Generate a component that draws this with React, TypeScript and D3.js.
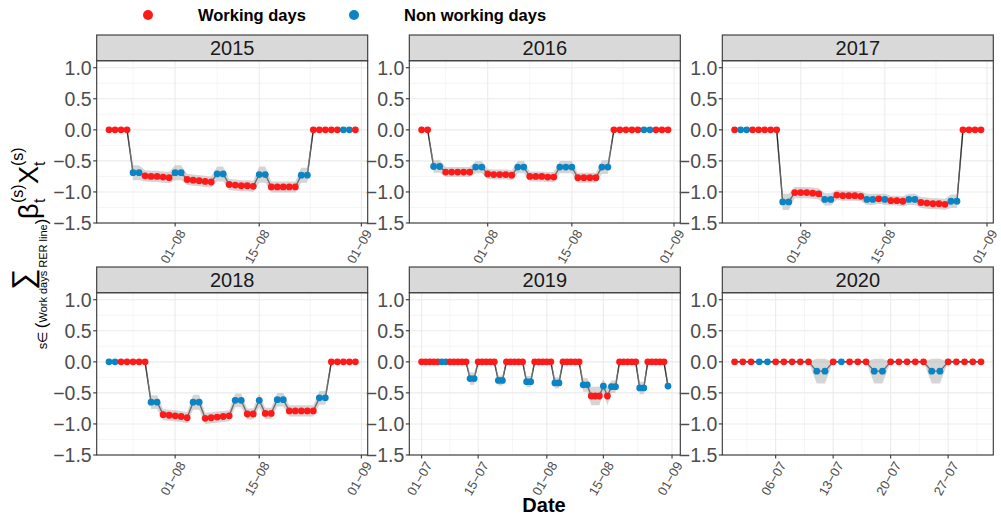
import * as d3 from "d3";

// facet years and the first day of each series
const years = ["2015", "2016", "2017", "2018", "2019", "2020"];
const firstDays = ["2015-07-21", "2016-07-21", "2017-07-21", "2018-07-21", "2019-07-01", "2020-07-01"];

// W = working day, N = non working day
const type2015 = "WWWWNNWWWWWNNWWWWWNNWWWWWNNWWWWWNNWWWWWNNW";
const type2016 = "WWNNWWWWWNNWWWWWNNWWWWWNNNWWWWNNWWWWWNNWWW";
const type2017 = "WNNWWWWWNNWWWWWNNWWWWWNNWNWWWNNWWWWWNNWWWW";
const type2018 = "NNWWWWWNNWWWWWNNWWWWWNNWWNWWNNWWWWWNNWWWWW";
const type2019 = "WWWWWNNWWWWWNNWWWWWNNWWWWWNNWWWWWNNWWWWWNNWWWNWNNWWWWWNNWWWWWN";
const type2020 = "WWWNNWWWWWNNWNWWWNNWWWWWNNWWWWW";

const value2015 = [0, 0, 0, 0, -0.69, -0.69, -0.74, -0.75, -0.75, -0.76, -0.77, -0.69, -0.69,
  -0.8, -0.81, -0.82, -0.83, -0.84, -0.71, -0.71, -0.88, -0.89, -0.9, -0.9, -0.91, -0.72, -0.72,
  -0.92, -0.92, -0.92, -0.92, -0.92, -0.73, -0.73, 0, 0, 0, 0, 0, 0, 0, 0];
const value2016 = [0, 0, -0.59, -0.59, -0.68, -0.68, -0.68, -0.68, -0.68, -0.6, -0.6,
  -0.71, -0.72, -0.72, -0.72, -0.73, -0.6, -0.6, -0.75, -0.75, -0.75, -0.76, -0.76,
  -0.6, -0.6, -0.6, -0.77, -0.77, -0.77, -0.77, -0.6, -0.6, 0, 0, 0, 0, 0, 0, 0, 0, 0, 0];
const value2017 = [0, 0, 0, 0, 0, 0, 0, 0, -1.16, -1.16, -1.01, -1.01, -1.01, -1.02, -1.03,
  -1.12, -1.12, -1.05, -1.06, -1.06, -1.06, -1.07, -1.12, -1.12, -1.11, -1.12,
  -1.14, -1.14, -1.15, -1.12, -1.12, -1.17, -1.18, -1.19, -1.19, -1.2, -1.15, -1.15, 0, 0, 0, 0];
const value2018 = [0, 0, 0, 0, 0, 0, 0, -0.65, -0.65, -0.85, -0.86, -0.87, -0.88, -0.9,
  -0.65, -0.65, -0.91, -0.9, -0.89, -0.88, -0.87, -0.62, -0.62, -0.84, -0.84, -0.62,
  -0.83, -0.83, -0.61, -0.61, -0.79, -0.79, -0.79, -0.79, -0.79, -0.58, -0.58, 0, 0, 0, 0, 0];
const value2019 = [0, 0, 0, 0, 0, 0, 0, 0, 0, 0, 0, 0, -0.27, -0.27, 0, 0, 0, 0, 0, -0.3, -0.3,
  0, 0, 0, 0, 0, -0.32, -0.32, 0, 0, 0, 0, 0, -0.34, -0.34, 0, 0, 0, 0, 0, -0.37, -0.37,
  -0.55, -0.55, -0.55, -0.39, -0.55, -0.4, -0.4, 0, 0, 0, 0, 0, -0.42, -0.42, 0, 0, 0, 0, 0, -0.39];
const value2020 = [0, 0, 0, 0, 0, 0, 0, 0, 0, 0, -0.15, -0.15, 0, 0, 0, 0, 0, -0.15, -0.15,
  0, 0, 0, 0, 0, -0.15, -0.15, 0, 0, 0, 0, 0];

// half width of the grey band
const se2015 = [0, 0, 0, 0, 0.12, 0.12, 0.09, 0.09, 0.09, 0.09, 0.09, 0.12, 0.12, 0.09, 0.09, 0.09, 0.09, 0.09,
  0.12, 0.12, 0.09, 0.09, 0.09, 0.09, 0.09, 0.13, 0.13, 0.09, 0.09, 0.09, 0.09, 0.09, 0.12, 0.12, 0, 0, 0, 0, 0, 0, 0, 0];
const se2016 = [0, 0, 0.1, 0.1, 0.08, 0.08, 0.08, 0.08, 0.08, 0.1, 0.1, 0.08, 0.08, 0.08, 0.08, 0.08,
  0.1, 0.1, 0.08, 0.08, 0.08, 0.08, 0.08, 0.1, 0.1, 0.1, 0.08, 0.08, 0.08, 0.08, 0.11, 0.11, 0, 0, 0, 0, 0, 0, 0, 0, 0, 0];
const se2017 = [0, 0, 0, 0, 0, 0, 0, 0, 0.13, 0.13, 0.09, 0.09, 0.09, 0.09, 0.09, 0.1, 0.1, 0.08, 0.08, 0.08, 0.08, 0.08,
  0.09, 0.09, 0.08, 0.09, 0.08, 0.08, 0.08, 0.09, 0.09, 0.09, 0.09, 0.09, 0.09, 0.09, 0.11, 0.11, 0, 0, 0, 0];
const se2018 = [0, 0, 0, 0, 0, 0, 0, 0.11, 0.11, 0.09, 0.09, 0.09, 0.09, 0.09, 0.12, 0.12, 0.09, 0.09, 0.09, 0.09, 0.09,
  0.11, 0.11, 0.09, 0.09, 0.11, 0.09, 0.09, 0.11, 0.11, 0.09, 0.09, 0.09, 0.09, 0.09, 0.11, 0.11, 0, 0, 0, 0, 0];
const se2019 = [0, 0, 0, 0, 0, 0, 0, 0, 0, 0, 0, 0, 0.1, 0.1, 0, 0, 0, 0, 0, 0.08, 0.08, 0, 0, 0, 0, 0, 0.09, 0.09,
  0, 0, 0, 0, 0, 0.09, 0.09, 0, 0, 0, 0, 0, 0.11, 0.11, 0.15, 0.15, 0.15, 0.11, 0.15, 0.1, 0.1,
  0, 0, 0, 0, 0, 0.1, 0.1, 0, 0, 0, 0, 0, 0.05];
const se2020 = [0, 0, 0, 0, 0, 0, 0, 0, 0, 0, 0.2, 0.2, 0, 0, 0, 0, 0, 0.2, 0.2, 0, 0, 0, 0, 0, 0.2, 0.2, 0, 0, 0, 0, 0];

const types = [type2015, type2016, type2017, type2018, type2019, type2020];
const values = [value2015, value2016, value2017, value2018, value2019, value2020];
const ses = [se2015, se2016, se2017, se2018, se2019, se2020];

const majorTicks = [
  ["2015-08-01", "2015-08-15", "2015-09-01"],
  ["2016-08-01", "2016-08-15", "2016-09-01"],
  ["2017-08-01", "2017-08-15", "2017-09-01"],
  ["2018-08-01", "2018-08-15", "2018-09-01"],
  ["2019-07-01", "2019-07-15", "2019-08-01", "2019-08-15", "2019-09-01"],
  ["2020-07-06", "2020-07-13", "2020-07-20", "2020-07-27"],
];
const yTicks = [-1.5, -1, -0.5, 0, 0.5, 1];
const yMinor = [-1.25, -0.75, -0.25, 0.25, 0.75];

const legendLabels = ["Working days", "Non working days"];
const colors = { W: "#ff1a1a", N: "#0a84c4" };

const PANEL_X = [96.7, 409.3, 722.3];
const PANEL_Y = [60.7, 292.7];
const PANEL_W = 271;
const PANEL_H = 162.3;
const STRIP_H = 25.7;
const FONT = "'Liberation Sans', Arial, Helvetica, sans-serif";
const DAY = 86400000;

const parse = d3.utcParse("%Y-%m-%d");
const fmt = d3.utcFormat("%d\u2212%m");
const yFmt = d3.format(".1f");

function Panel({ i }: { i: number }) {
  const x0 = PANEL_X[i % 3];
  const y0 = PANEL_Y[Math.floor(i / 3)];
  const start = parse(firstDays[i])!;
  const data = values[i].map((v, k) => ({
    date: new Date(start.getTime() + k * DAY),
    v,
    se: ses[i][k],
    t: types[i][k] as "W" | "N",
  }));
  const ext = d3.extent(data, (d) => d.date.getTime()) as [number, number];
  const pad = (ext[1] - ext[0]) * 0.05;
  const x = d3.scaleUtc().domain([new Date(ext[0] - pad), new Date(ext[1] + pad)]).range([x0, x0 + PANEL_W]);
  const y = d3.scaleLinear().domain([-1.5, 1.113]).range([y0 + PANEL_H, y0]);

  const majors = majorTicks[i].map((s) => parse(s)!);
  const m = majors.map((d) => d.getTime());
  const ext2 = [m[0] - (m[1] - m[0]), ...m, m[m.length - 1] + (m[m.length - 1] - m[m.length - 2])];
  const minors = d3.pairs(ext2).map(([a, b]) => new Date((a + b) / 2))
    .filter((d) => x(d) > x0 && x(d) < x0 + PANEL_W);

  const line = d3.line<(typeof data)[0]>().x((d) => x(d.date)).y((d) => y(d.v));
  const area = d3.area<(typeof data)[0]>().x((d) => x(d.date)).y0((d) => y(d.v - d.se)).y1((d) => y(d.v + d.se));
  const yb = y0 + PANEL_H;

  return (
    <g>
      <rect x={x0} y={y0} width={PANEL_W} height={PANEL_H} fill="#fff" />
      {yMinor.map((t) => (
        <line key={"ym" + t} x1={x0} x2={x0 + PANEL_W} y1={y(t)} y2={y(t)} stroke="#f0f0f0" strokeWidth={0.7} />
      ))}
      {minors.map((d) => (
        <line key={"xm" + d.getTime()} x1={x(d)} x2={x(d)} y1={y0} y2={yb} stroke="#f0f0f0" strokeWidth={0.7} />
      ))}
      {yTicks.map((t) => (
        <line key={"yM" + t} x1={x0} x2={x0 + PANEL_W} y1={y(t)} y2={y(t)} stroke="#ebebeb" strokeWidth={1.1} />
      ))}
      {majors.map((d) => (
        <line key={"xM" + d.getTime()} x1={x(d)} x2={x(d)} y1={y0} y2={yb} stroke="#ebebeb" strokeWidth={1.1} />
      ))}
      <path d={line(data)!} fill="none" stroke="#1a1a1a" strokeWidth={1.4} />
      <path d={area(data)!} fill="#b3b3b3" fillOpacity={0.55} />
      {data.map((d, k) => (
        <circle key={k} cx={x(d.date)} cy={y(d.v)} r={3.4} fill={colors[d.t]} />
      ))}
      <rect x={x0} y={y0} width={PANEL_W} height={PANEL_H} fill="none" stroke="#333" strokeWidth={1.1} />
      <rect x={x0} y={y0 - STRIP_H} width={PANEL_W} height={STRIP_H} fill="#d9d9d9" stroke="#333" strokeWidth={1.1} />
      <text x={x0 + PANEL_W / 2} y={y0 - STRIP_H / 2} dy="0.36em" textAnchor="middle" fontSize={20} fill="#1a1a1a">
        {years[i]}
      </text>
      {yTicks.map((t) => (
        <g key={"yt" + t}>
          <line x1={x0 - 3.5} x2={x0} y1={y(t)} y2={y(t)} stroke="#333" strokeWidth={1.1} />
          <text x={x0 - 5} y={y(t)} dy="0.36em" textAnchor="end" fontSize={19.5} fill="#4d4d4d">
            {yFmt(t)}
          </text>
        </g>
      ))}
      {majors.map((d) => (
        <g key={"xt" + d.getTime()}>
          <line x1={x(d)} x2={x(d)} y1={yb} y2={yb + 3.5} stroke="#333" strokeWidth={1.1} />
          <text transform={`translate(${x(d) + 11},${yb + 10}) rotate(-60)`} textAnchor="end" fontSize={13} fill="#4d4d4d">
            {fmt(d)}
          </text>
        </g>
      ))}
    </g>
  );
}

export default function App() {
  return (
    <svg width={1001} height={517} style={{ position: "absolute", left: 0, top: 0, fontFamily: FONT }}>
      <rect width={1001} height={517} fill="#fff" />
      {years.map((_, i) => (
        <Panel key={i} i={i} />
      ))}
      {/* legend */}
      {legendLabels.map((lab, k) => {
        const cx = [148, 354][k];
        return (
          <g key={lab}>
            <circle cx={cx} cy={15} r={5} fill={k === 0 ? colors.W : colors.N} />
            <text x={cx + 50} y={15} dy="0.36em" fontSize={16.5} fontWeight="bold" fill="#000">
              {lab}
            </text>
          </g>
        );
      })}
      <text x={544} y={512} textAnchor="middle" fontSize={20} fontWeight="bold" fill="#000">
        Date
      </text>
      {/* y title, rotated: local x = -screen y, local y = screen x */}
      <g transform="rotate(-90)" fill="#000">
        <text x={-279} y={33} textAnchor="middle" fontSize={30}>∑</text>
        <text x={-284} y={47} textAnchor="middle" fontSize={13}>
          <tspan>s∈ </tspan>
          <tspan fontSize={17}>(</tspan>
          <tspan fontSize={11}>Work days RER line</tspan>
          <tspan fontSize={17}>)</tspan>
        </text>
        <text x={-219} y={38} fontSize={27}>β</text>
        <text x={-203} y={23} fontSize={16}>(s)</text>
        <text x={-203} y={45} fontSize={16}>t</text>
        <text x={-184} y={38} fontSize={27}>X</text>
        <text x={-166} y={23} fontSize={16}>(s)</text>
        <text x={-166} y={45} fontSize={16}>t</text>
      </g>
    </svg>
  );
}
